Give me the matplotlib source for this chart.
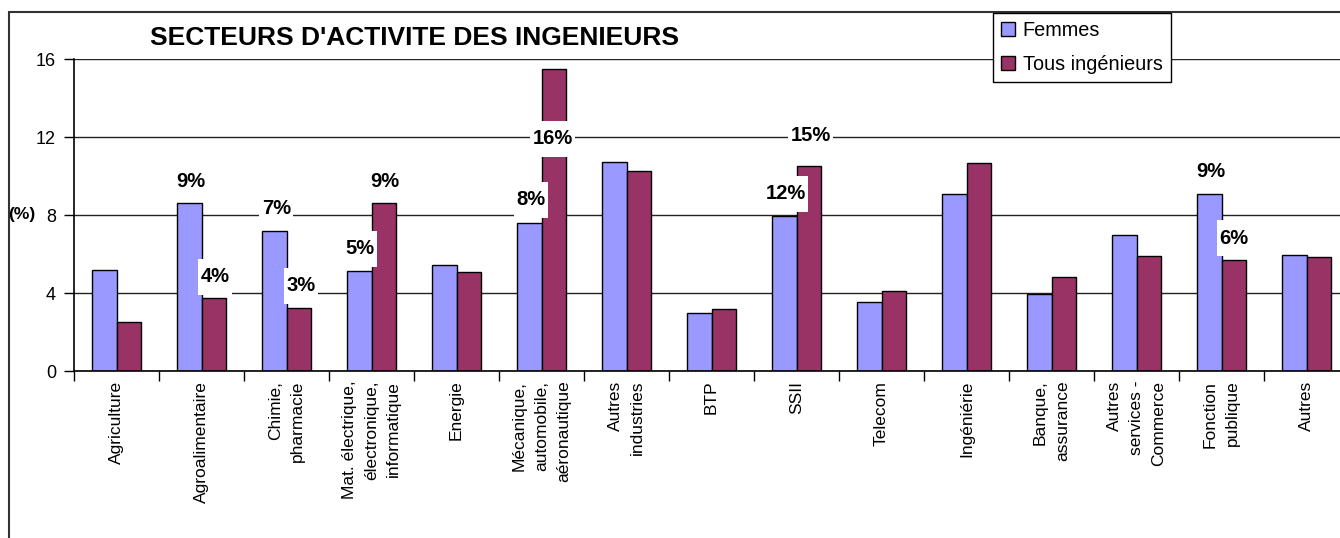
import matplotlib
matplotlib.use("Agg")
import matplotlib.pyplot as plt
from matplotlib.path import Path
from matplotlib.patches import Rectangle
import numpy as np

plt.rcParams['font.family'] = ['Liberation Sans', 'DejaVu Sans']

# data
secteurs = ["Agriculture", "Agroalimentaire", "Chimie,\npharmacie",
            "Mat. électrique,\nélectronique,\ninformatique", "Energie",
            "Mécanique,\nautomobile,\naéronautique", "Autres\nindustries",
            "BTP", "SSII", "Telecom", "Ingéniérie", "Banque,\nassurance",
            "Autres\nservices -\nCommerce", "Fonction\npublique", "Autres"]
femmes = [5.2, 8.6, 7.2, 5.15, 5.45, 7.6, 10.7, 2.95, 7.95, 3.55, 9.1, 3.95, 6.95, 9.1, 5.95]
tous = [2.5, 3.75, 3.25, 8.6, 5.1, 15.5, 10.25, 3.2, 10.5, 4.1, 10.65, 4.8, 5.92, 5.68, 5.86]

# percentage labels drawn on the chart (text, x in category units, y)
ann_text = ["9%", "4%", "7%", "3%", "5%", "9%", "8%", "16%", "12%", "15%", "9%", "6%"]
ann_x = [0.87, 1.16, 1.88, 2.17, 2.87, 3.16, 4.88, 5.13, 7.87, 8.17, 12.87, 13.15]
ann_y = [9.71, 4.84, 8.31, 4.36, 6.26, 9.71, 8.77, 11.9, 9.08, 12.07, 10.22, 6.82]

W, H = 1340, 538
fig = plt.figure(figsize=(W / 100, H / 100), dpi=100)

# outer frame (runs off the right and bottom of the picture)
fig.patches.append(Rectangle((9 / W, -0.2), 2.0, 1.2 - 12 / H, transform=fig.transFigure,
                             fill=False, edgecolor='#333333', linewidth=1.5))

ax = fig.add_axes([74 / W, 1 - 371 / H, 1275 / W, 312 / H])

x = np.arange(len(secteurs))
bw = 0.294
ax.bar(x - bw / 2, femmes, bw, color='#9999FF', edgecolor='black', linewidth=1, label='Femmes', zorder=2)
ax.bar(x + bw / 2, tous, bw, color='#993366', edgecolor='black', linewidth=1, label='Tous ingénieurs', zorder=2)

ax.set_xlim(-0.5, len(secteurs) - 0.5)
ax.set_ylim(0, 16)
ax.set_yticks([0, 4, 8, 12, 16])
ax.yaxis.grid(True, color='#222222', linewidth=1)
ax.set_axisbelow(True)

ax.set_xticks(x)
ax.set_xticklabels(secteurs, rotation=90, ha='center', va='top', multialignment='right',
                   fontsize=12.5, linespacing=1.6)
ax.set_xticks(np.arange(len(secteurs) + 1) - 0.5, minor=True)
ax.tick_params(axis='x', which='major', length=0, pad=7)
ax.tick_params(axis='x', which='minor', length=7, width=1)
ax.tick_params(axis='y', length=7, width=1, pad=6, labelsize=13)

for s in ['top', 'right']:
    ax.spines[s].set_visible(False)
for s in ['left', 'bottom']:
    ax.spines[s].set_linewidth(1.2)


def tall_box(x0, y0, width, height, mutation_size):
    hp = 0.12 * mutation_size
    vp = 0.42 * mutation_size
    return Path([(x0 - hp, y0 - vp), (x0 + width + hp, y0 - vp),
                 (x0 + width + hp, y0 + height + vp), (x0 - hp, y0 + height + vp),
                 (x0 - hp, y0 - vp)], closed=True)


for t, xx, yy in zip(ann_text, ann_x, ann_y):
    ax.text(xx, yy, t, ha='center', va='center', fontsize=14.5, fontweight='bold', zorder=5,
            bbox=dict(boxstyle=tall_box, facecolor='white', edgecolor='none'))

fig.text(414 / W, 1 - 38 / H, "SECTEURS D'ACTIVITE DES INGENIEURS", ha='center', va='center',
         fontsize=19, fontweight='bold')
fig.text(22 / W, 1 - 215 / H, "(%)", ha='center', va='center', fontsize=12.5, fontweight='bold')

leg = fig.legend(loc='upper left', bbox_to_anchor=(993 / W, 1 - 13 / H), fontsize=14.3,
                 frameon=True, fancybox=False, edgecolor='black', framealpha=1,
                 handlelength=0.7, handleheight=0.7, handletextpad=0.4,
                 borderpad=0.4, labelspacing=0.75, borderaxespad=0)
leg.get_frame().set_linewidth(1)

fig.savefig("out.png", dpi=100)
